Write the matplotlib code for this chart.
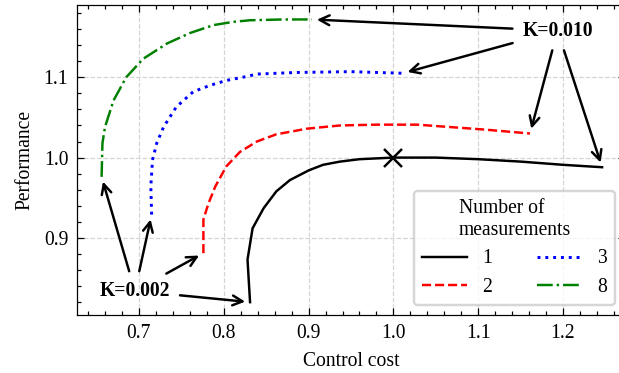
import matplotlib
matplotlib.use('Agg')
import matplotlib.pyplot as plt
from matplotlib.ticker import MultipleLocator

plt.rcParams['font.family'] = ['Liberation Serif', 'DejaVu Serif']
plt.rcParams['font.size'] = 8
plt.rcParams['xtick.direction'] = 'in'
plt.rcParams['ytick.direction'] = 'in'
plt.rcParams['xtick.top'] = True
plt.rcParams['ytick.right'] = True
plt.rcParams['xtick.major.size'] = 3
plt.rcParams['ytick.major.size'] = 3
plt.rcParams['xtick.minor.size'] = 1.5
plt.rcParams['ytick.minor.size'] = 1.5
plt.rcParams['xtick.major.width'] = 0.5
plt.rcParams['ytick.major.width'] = 0.5
plt.rcParams['xtick.minor.width'] = 0.5
plt.rcParams['ytick.minor.width'] = 0.5
plt.rcParams['axes.linewidth'] = 0.5

# 数据
cost_1 = [0.831, 0.828, 0.834, 0.847, 0.862, 0.878, 0.900, 0.917, 0.937, 0.960, 1.000, 1.050, 1.100, 1.150, 1.200, 1.246]
perf_1 = [0.820, 0.873, 0.912, 0.937, 0.958, 0.972, 0.984, 0.991, 0.995, 0.998, 1.000, 1.000, 0.998, 0.995, 0.991, 0.988]

cost_2 = [0.776, 0.776, 0.782, 0.790, 0.803, 0.819, 0.839, 0.862, 0.898, 0.937, 0.980, 1.028, 1.106, 1.161]
perf_2 = [0.881, 0.923, 0.943, 0.964, 0.989, 1.007, 1.020, 1.029, 1.036, 1.040, 1.041, 1.041, 1.035, 1.030]

cost_3 = [0.715, 0.714, 0.716, 0.721, 0.729, 0.744, 0.764, 0.784, 0.803, 0.827, 0.839, 0.886, 0.950, 1.011]
perf_3 = [0.929, 0.964, 0.997, 1.018, 1.038, 1.063, 1.082, 1.090, 1.096, 1.101, 1.104, 1.106, 1.107, 1.105]

cost_8 = [0.656, 0.657, 0.660, 0.670, 0.685, 0.705, 0.733, 0.760, 0.788, 0.811, 0.831, 0.870, 0.904]
perf_8 = [0.976, 1.018, 1.038, 1.071, 1.100, 1.123, 1.142, 1.155, 1.165, 1.169, 1.171, 1.172, 1.172]

labels = ['1', '2', '3', '8']
best_point = (1.0, 1.0)

fig, ax = plt.subplots(figsize=(619 / 177, 373 / 177), dpi=177)
# 右侧坐标轴在图片之外（原图被裁剪）
fig.subplots_adjust(left=0.1244, right=1.0097, bottom=0.1555, top=0.9866)

ax.grid(True, color='#d4d4d4', linestyle='--', linewidth=0.5)
ax.set_axisbelow(True)

ax.plot(cost_1, perf_1, c='k', ls='-', lw=1.0, label=labels[0])
ax.plot(cost_2, perf_2, c='r', ls='--', lw=1.0, label=labels[1])
ax.plot(cost_3, perf_3, c='b', ls=':', lw=1.2, label=labels[2])
ax.plot(cost_8, perf_8, c='g', ls='-.', lw=1.0, label=labels[3])
ax.plot(*best_point, marker='x', c='k', ms=7, mew=1.0)

arrow = dict(arrowstyle='->', color='k', lw=1.0, mutation_scale=10)
curves = [(cost_1, perf_1), (cost_2, perf_2), (cost_3, perf_3), (cost_8, perf_8)]
for i, (cx, cy) in enumerate(curves):
    tc = 'k' if i == 0 else 'none'
    ax.annotate('K=0.002', xy=(cx[0], cy[0]), xytext=(0.6953, 0.834), color=tc,
                ha='center', va='center', fontweight='bold', arrowprops=arrow)
    ax.annotate('K=0.010', xy=(cx[-1], cy[-1]), xytext=(1.1935, 1.158), color=tc,
                ha='center', va='center', fontweight='bold', arrowprops=arrow)

ax.set_xlim(0.627, 1.273)
ax.set_ylim(0.804, 1.19)
ax.xaxis.set_major_locator(MultipleLocator(0.1))
ax.xaxis.set_minor_locator(MultipleLocator(0.02))
ax.yaxis.set_major_locator(MultipleLocator(0.1))
ax.yaxis.set_minor_locator(MultipleLocator(0.02))
ax.set_xlabel('Control cost')
ax.set_ylabel('Performance')

ax.legend(title='Number of\nmeasurements', ncol=2, loc='lower right',
          frameon=True, columnspacing=2.3, handlelength=2.25)

plt.savefig('out.png', dpi=177)
